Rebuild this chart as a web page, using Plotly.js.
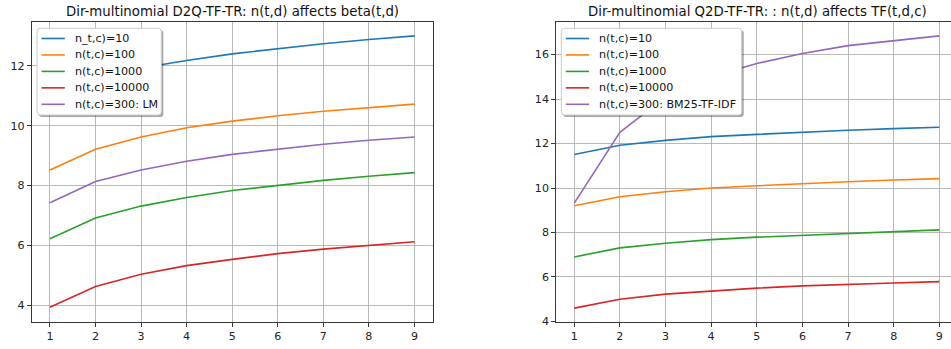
<!DOCTYPE html>
<html>
<head>
<meta charset="utf-8">
<script src="https://cdn.plot.ly/plotly-3.0.1.min.js"></script>
<style>
  html, body { margin: 0; padding: 0; background: #fff; }
  #chart { width: 951px; height: 349px; }
</style>
</head>
<body>
<div id="chart"></div>
<script>
// Number of terms n(t,d) on the x axis
const steps = [1, 2, 3, 4, 5, 6, 7, 8, 9];

// Left panel: beta(t,d) for D2Q-TF-TR
const betaLabels = ["n_t,c)=10", "n(t,c)=100", "n(t,c)=1000", "n(t,c)=10000", "n(t,c)=300: LM"];
const betaN10    = [10.80, 11.50, 11.93, 12.18, 12.40, 12.58, 12.74, 12.88, 13.00];
const betaN100   = [8.52, 9.21, 9.62, 9.93, 10.15, 10.33, 10.48, 10.61, 10.72];
const betaN1000  = [6.22, 6.91, 7.31, 7.60, 7.83, 8.00, 8.17, 8.31, 8.43];
const betaN10000 = [3.93, 4.62, 5.03, 5.32, 5.53, 5.72, 5.87, 6.00, 6.12];
const betaLM     = [7.42, 8.13, 8.52, 8.81, 9.04, 9.21, 9.38, 9.51, 9.62];

// Right panel: TF(t,d,c) for Q2D-TF-TR
const tfLabels = ["n(t,c)=10", "n(t,c)=100", "n(t,c)=1000", "n(t,c)=10000", "n(t,c)=300: BM25-TF-IDF"];
const tfN10    = [11.51, 11.92, 12.14, 12.31, 12.41, 12.52, 12.60, 12.67, 12.73];
const tfN100   = [9.20, 9.61, 9.83, 10.00, 10.10, 10.20, 10.28, 10.36, 10.42];
const tfN1000  = [6.90, 7.31, 7.52, 7.68, 7.79, 7.88, 7.97, 8.05, 8.12];
const tfN10000 = [4.60, 5.00, 5.23, 5.38, 5.50, 5.60, 5.68, 5.73, 5.79];
const tfBM25   = [9.32, 12.50, 14.10, 15.00, 15.60, 16.05, 16.40, 16.62, 16.84];

const titles = [
  "Dir-multinomial D2Q-TF-TR: n(t,d) affects beta(t,d)",
  "Dir-multinomial Q2D-TF-TR: : n(t,d) affects TF(t,d,c)"
];

const colors = ["#1f77b4", "#ff7f0e", "#2ca02c", "#d62728", "#9467bd"];

const W = 951, H = 349;
const px = x => x / W;
const py = y => 1 - y / H;
const FONT = "DejaVu Sans, Liberation Sans, sans-serif";
const FS = 11.1;      // tick and legend text
const FS_TITLE = 13.3;

// Axes rectangles in pixels
const axL = { x0: 31.7, x1: 432.7, y0: 22.3, y1: 321.7 };
const axR = { x0: 556.0, x1: 951.0, y0: 22.3, y1: 321.7 };

const leftSeries = [betaN10, betaN100, betaN1000, betaN10000, betaLM];
const rightSeries = [tfN10, tfN100, tfN1000, tfN10000, tfBM25];

const traces = [];
leftSeries.forEach((ys, i) => traces.push({
  x: steps, y: ys, type: "scatter", mode: "lines", name: betaLabels[i],
  xaxis: "x", yaxis: "y", showlegend: false,
  line: { color: colors[i], width: 1.6 }
}));
rightSeries.forEach((ys, i) => traces.push({
  x: steps, y: ys, type: "scatter", mode: "lines", name: tfLabels[i],
  xaxis: "x2", yaxis: "y2", showlegend: false,
  line: { color: colors[i], width: 1.6 }
}));

function axisStyle(extra) {
  return Object.assign({
    showgrid: true, gridcolor: "#b0b0b0", gridwidth: 0.9,
    zeroline: false, showline: true, linecolor: "#222", linewidth: 0.9,
    ticks: "outside", ticklen: 3.9, tickwidth: 0.9, tickcolor: "#222",
    tickfont: { family: FONT, size: FS, color: "#222" },
    fixedrange: true
  }, extra);
}

// Rounded rectangle path in paper coordinates
function roundRect(x0, y0, x1, y1, r) {
  const X = v => px(v).toFixed(6), Y = v => py(v).toFixed(6);
  return `M ${X(x0 + r)},${Y(y0)} L ${X(x1 - r)},${Y(y0)} Q ${X(x1)},${Y(y0)} ${X(x1)},${Y(y0 + r)} ` +
         `L ${X(x1)},${Y(y1 - r)} Q ${X(x1)},${Y(y1)} ${X(x1 - r)},${Y(y1)} ` +
         `L ${X(x0 + r)},${Y(y1)} Q ${X(x0)},${Y(y1)} ${X(x0)},${Y(y1 - r)} ` +
         `L ${X(x0)},${Y(y0 + r)} Q ${X(x0)},${Y(y0)} ${X(x0 + r)},${Y(y0)} Z`;
}

const shapes = [];
const annotations = [];

// Legend box with drop shadow, line samples and labels
function addLegend(ax, labels, boxWidth) {
  const bx0 = ax.x0 + 5.3, by0 = ax.y0 + 6.0;
  const bx1 = bx0 + boxWidth, by1 = by0 + 86.7;
  shapes.push({ type: "path", xref: "paper", yref: "paper", layer: "above",
    path: roundRect(bx0 + 2, by0 + 2, bx1 + 2, by1 + 2, 3),
    fillcolor: "rgba(0,0,0,0.35)", line: { width: 0 } });
  shapes.push({ type: "path", xref: "paper", yref: "paper", layer: "above",
    path: roundRect(bx0, by0, bx1, by1, 3),
    fillcolor: "#ffffff", line: { color: "#cccccc", width: 1 } });
  labels.forEach((lab, i) => {
    const yc = by0 + 10.2 + 16.45 * i;
    shapes.push({ type: "line", xref: "paper", yref: "paper", layer: "above",
      x0: px(bx0 + 4.5), x1: px(bx0 + 27.8), y0: py(yc), y1: py(yc),
      line: { color: colors[i], width: 1.6 } });
    annotations.push({ xref: "paper", yref: "paper", x: px(bx0 + 35.8), y: py(yc),
      xanchor: "left", yanchor: "middle", showarrow: false, text: lab,
      font: { family: FONT, size: FS, color: "#111" } });
  });
}

addLegend(axL, betaLabels, 124.3);
addLegend(axR, tfLabels, 180.4);

// Panel titles
annotations.push({ xref: "paper", yref: "paper", x: px((axL.x0 + axL.x1) / 2), y: py(11),
  xanchor: "center", yanchor: "middle", showarrow: false, text: titles[0],
  font: { family: FONT, size: FS_TITLE, color: "#111" } });
annotations.push({ xref: "paper", yref: "paper", x: px(757), y: py(11),
  xanchor: "center", yanchor: "middle", showarrow: false, text: titles[1],
  font: { family: FONT, size: FS_TITLE, color: "#111" } });

const layout = {
  width: W, height: H,
  margin: { l: 0, r: 0, t: 0, b: 0, pad: 0 },
  paper_bgcolor: "#ffffff", plot_bgcolor: "#ffffff",
  showlegend: false, hovermode: false,
  xaxis: axisStyle({ domain: [px(axL.x0), px(axL.x1)], range: [0.6, 9.4],
    tickvals: steps, mirror: true, anchor: "y" }),
  yaxis: axisStyle({ domain: [py(axL.y1), py(axL.y0)], range: [3.445, 13.455],
    tickvals: [4, 6, 8, 10, 12], mirror: true, anchor: "x" }),
  xaxis2: axisStyle({ domain: [px(axR.x0), 1], range: [0.6, 9.256],
    tickvals: steps, mirror: true, anchor: "y2" }),
  yaxis2: axisStyle({ domain: [py(axR.y1), py(axR.y0)], range: [3.99, 17.45],
    tickvals: [4, 6, 8, 10, 12, 14, 16], mirror: false, anchor: "x2" }),
  shapes: shapes,
  annotations: annotations
};

Plotly.newPlot("chart", traces, layout, { staticPlot: true, displayModeBar: false });
</script>
</body>
</html>
